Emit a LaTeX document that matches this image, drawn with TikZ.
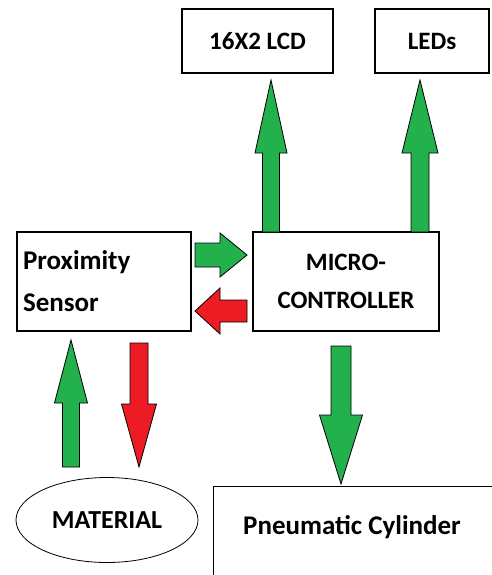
\documentclass[tikz,border=0pt]{standalone}
\usepackage{fontspec}
\setmainfont{Carlito}
\usetikzlibrary{calc,shapes.geometric}
\definecolor{agreen}{RGB}{34,177,76}
\definecolor{ared}{RGB}{237,28,36}
% #1 start, #2 end, #3 half shaft, #4 half head, #5 head length, #6 colour
\newcommand{\blockarrow}[6]{%
  \filldraw[fill=#6, draw=black, line width=0.8pt, line join=miter]
  let \p1=(#1), \p2=(#2), \n1={veclen(\x2-\x1,\y2-\y1)}, \n2={atan2(\y2-\y1,\x2-\x1)} in
  [shift={(\p1)}, rotate=\n2]
  (0,-#3) -- (\n1-#5,-#3) -- (\n1-#5,-#4) -- (\n1,0) -- (\n1-#5,#4) -- (\n1-#5,#3) -- (0,#3) -- cycle;}
\tikzset{
  box/.style={draw, line width=1.2pt, inner sep=0pt},
  lbl/.style={font=\fontsize{26}{31}\selectfont\bfseries}
}
\begin{document}
\begin{tikzpicture}[x=1pt, y=-1pt]
\clip (0,0) rectangle (492,575);
\fill[white] (0,0) rectangle (492,575);
\node[box, lbl, minimum width=151, minimum height=64, font=\fontsize{25}{30}\selectfont\bfseries] (lcd) at (257.5,41) {16X2 LCD};
\node[box, lbl, minimum width=114, minimum height=64, font=\fontsize{25}{30}\selectfont\bfseries] (leds) at (432,41) {LEDs};
\node[box, minimum width=174, minimum height=99, text width=162, align=left, font=\fontsize{27}{42}\selectfont\bfseries] (prox) at (104,281.5) {Proximity\\Sensor};
\node[box, minimum width=186, minimum height=99, align=center, font=\fontsize{25}{38}\selectfont\bfseries] (micro) at (346,281.5) {MICRO-\\CONTROLLER};
\node[ellipse, draw, line width=0.8pt, minimum width=182, minimum height=85, inner sep=0pt, lbl] (mat) at (107,520) {MATERIAL};
\node[box, anchor=north west, minimum width=330, minimum height=140] (pneu) at (213,486) {};
\node[lbl, font=\fontsize{27}{32}\selectfont\bfseries] (pneutext) at (352,527) {Pneumatic Cylinder};
% arrow end points
\coordinate (a1s) at (271,232); \coordinate (a1e) at (271,80);
\coordinate (a2s) at (420,232); \coordinate (a2e) at (420,80);
\coordinate (a3s) at (195,255); \coordinate (a3e) at (247,255);
\coordinate (a4s) at (247,311); \coordinate (a4e) at (195,311);
\coordinate (a5s) at (71,467);  \coordinate (a5e) at (71,340);
\coordinate (a6s) at (139,343); \coordinate (a6e) at (139,467);
\coordinate (a7s) at (341,346); \coordinate (a7e) at (341,484);
\blockarrow{a1s}{a1e}{8.5}{16}{73}{agreen}
\blockarrow{a2s}{a2e}{9}{18}{73}{agreen}
\blockarrow{a3s}{a3e}{12}{22}{27}{agreen}
\blockarrow{a4s}{a4e}{11}{23}{25}{ared}
\blockarrow{a5s}{a5e}{8.5}{16.5}{63}{agreen}
\blockarrow{a6s}{a6e}{9}{17.5}{63}{ared}
\blockarrow{a7s}{a7e}{10}{21.5}{69}{agreen}
\end{tikzpicture}
\end{document}
